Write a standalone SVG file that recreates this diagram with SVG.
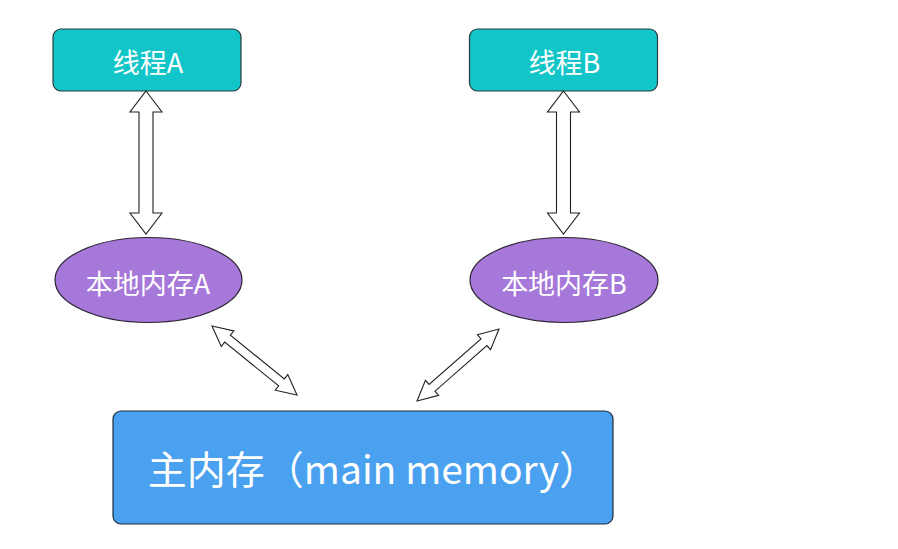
<svg xmlns="http://www.w3.org/2000/svg" width="898" height="549" viewBox="0 0 898 549">
<style>
.thread{fill:#12C5C8;stroke:#2b3a3a;stroke-width:1.2}
.local{fill:#A678D9;stroke:#2a2233;stroke-width:1.2}
.main{fill:#4AA1EF;stroke:#1f2d3a;stroke-width:1.2}
.lbl{fill:#ffffff;font-family:"Noto Sans CJK SC","Noto Sans",sans-serif;text-anchor:middle}
.arr{fill:#ffffff;stroke:#222222;stroke-width:1.1;stroke-linejoin:miter}
</style>
<rect width="898" height="549" fill="#ffffff"/>
<g id="threadA">
<rect class="thread" x="53" y="29" width="188" height="62" rx="8"/>
<text class="lbl" x="148" y="73" font-size="27">线程A</text>
</g>
<g id="threadB">
<rect class="thread" x="469.5" y="29" width="188" height="62" rx="8"/>
<text class="lbl" x="564.5" y="73" font-size="27">线程B</text>
</g>
<g id="localA">
<ellipse class="local" cx="148.5" cy="280" rx="93.5" ry="42.5"/>
<text class="lbl" x="148" y="294" font-size="27">本地内存A</text>
</g>
<g id="localB">
<ellipse class="local" cx="564" cy="280" rx="94" ry="42.5"/>
<text class="lbl" x="564" y="294" font-size="27">本地内存B</text>
</g>
<g id="mainMemory">
<rect class="main" x="113" y="411" width="500" height="113" rx="8"/>
<text class="lbl" x="373" y="484" font-size="39">主内存（main memory）</text>
</g>
<g id="connectors">
<path class="arr" d="M146,91 L162,112 L153,112 L153,213 L162,213 L146,234 L130,213 L139,213 L139,112 L130,112 Z"/>
<path class="arr" d="M563.5,91 L579.5,112 L570.5,112 L570.5,213 L579.5,213 L563.5,234 L547.5,213 L556.5,213 L556.5,112 L547.5,112 Z"/>
<path class="arr" transform="translate(212,326) rotate(39.07)" d="M0,0 L20,-10 L20,-4.5 L89.5,-4.5 L89.5,-10 L109.5,0 L89.5,10 L89.5,4.5 L20,4.5 L20,10 Z"/>
<path class="arr" transform="translate(417,401) rotate(-41.28)" d="M0,0 L20,-10 L20,-4.5 L89.1,-4.5 L89.1,-10 L109.1,0 L89.1,10 L89.1,4.5 L20,4.5 L20,10 Z"/>
</g>
</svg>
